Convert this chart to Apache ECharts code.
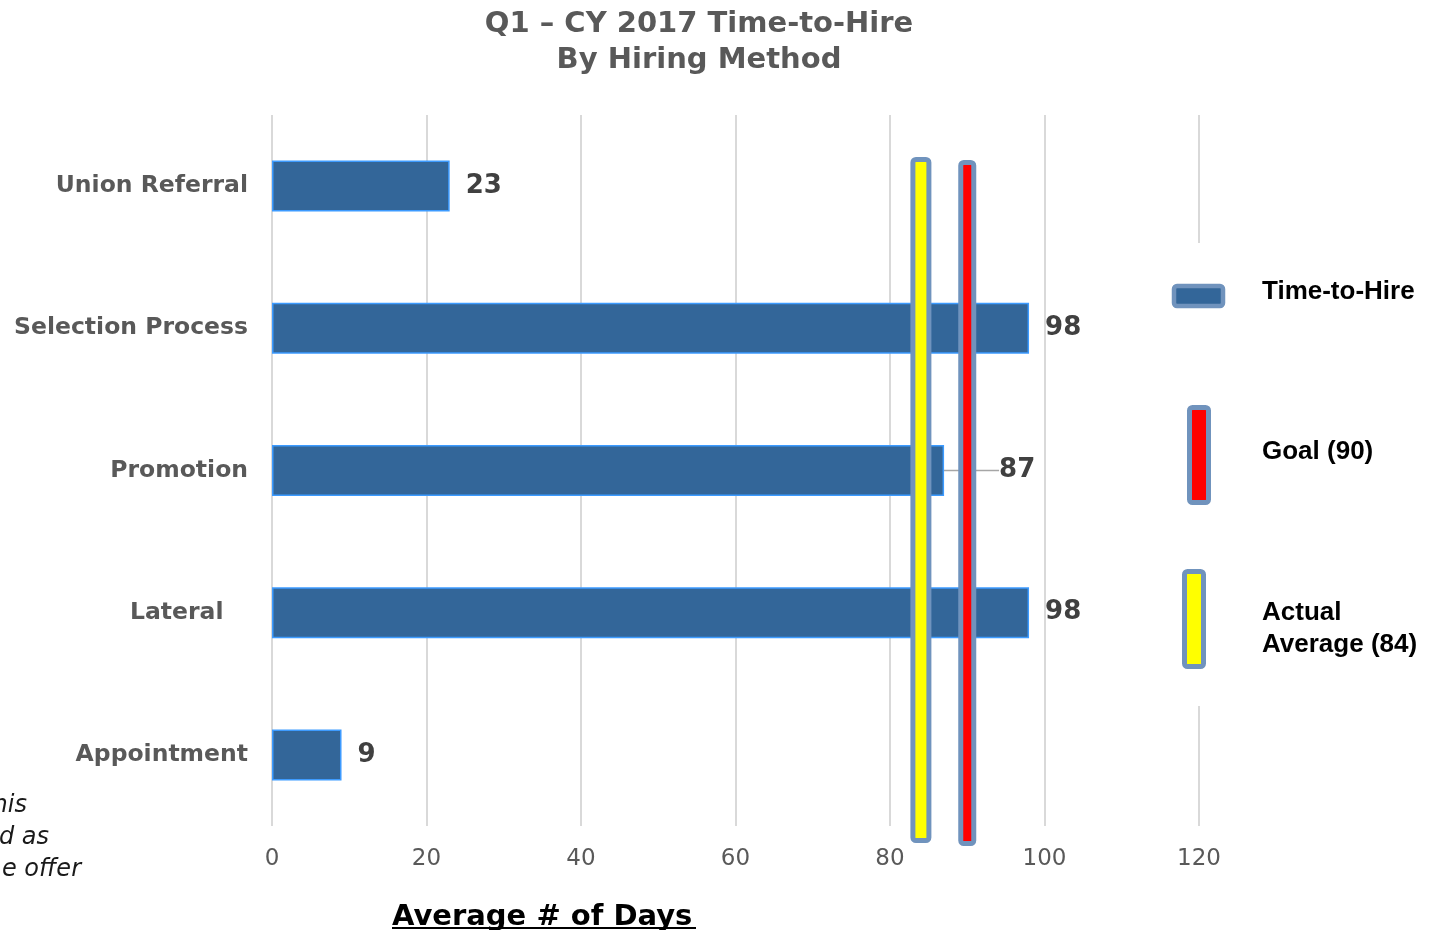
<!DOCTYPE html>
<html>
<head>
<meta charset="utf-8">
<title>Q1 – CY 2017 Time-to-Hire By Hiring Method</title>
<script src="https://cdn.jsdelivr.net/npm/echarts@6/dist/echarts.min.js"></script>
<style>
  html, body { margin: 0; padding: 0; background: #ffffff; }
  #chart { width: 1434px; height: 930px; }
</style>
</head>
<body>
<div id="chart"></div>
<script>
// Hiring methods and the average number of days each took
const categories = ['Union Referral', 'Selection Process', 'Promotion', 'Lateral', 'Appointment'];
const daysToHire = [23, 98, 87, 98, 9];

// Reference markers
const goalDays = 90;
const actualAverageDays = 84;

// Value axis ticks
const axisMin = 0;
const axisMax = 120;
const axisStep = 20;

// Legend captions
const legendNames = ['Time-to-Hire', 'Goal (90)', 'Actual\nAverage (84)'];

// Footnote fragments at the lower left
const footnoteLines = ['his', 'd as', 'e offer'];

const BAR_FILL = '#336699';
const BAR_EDGE = '#3d9bff';
const MARKER_EDGE = '#7093bd';
const SANS = '"DejaVu Sans", Verdana, sans-serif';
const ARIAL = '"Liberation Sans", Arial, sans-serif';

// Promotion's value label sits to the right of the reference bands, joined by a leader line
const LEADER_INDEX = 2;

const chart = echarts.init(document.getElementById('chart'), null, { renderer: 'canvas' });

// Vertical reference band drawn across the plot at a given day value
function markerRenderer(fill, width, topPad, bottomPad) {
  return function (params, api) {
    const x = api.coord([api.value(0), 0])[0];
    const cs = params.coordSys;
    return {
      type: 'rect',
      shape: {
        x: x - width / 2,
        y: cs.y + topPad,
        width: width,
        height: cs.height - topPad + bottomPad,
        r: 3
      },
      style: { fill: fill, stroke: MARKER_EDGE, lineWidth: 5 }
    };
  };
}

const barData = daysToHire.map(function (v, i) {
  return i === LEADER_INDEX
    ? { value: v, labelLine: { show: true } }
    : { value: v };
});

const footnoteEnds = [27, 49, 81];
const footnoteGraphics = footnoteLines.map(function (t, i) {
  return {
    type: 'text',
    x: footnoteEnds[i],
    y: 806 + i * 32,
    z: 50,
    style: {
      text: t,
      textAlign: 'right',
      textVerticalAlign: 'middle',
      font: 'italic 24px ' + SANS,
      fill: '#1a1a1a'
    }
  };
});

const option = {
  backgroundColor: '#ffffff',
  animation: false,
  title: {
    text: 'Q1 – CY 2017 Time-to-Hire\nBy Hiring Method',
    left: 694,
    top: 1,
    textAlign: 'center',
    textStyle: {
      fontFamily: SANS,
      fontWeight: 'bold',
      fontSize: 29,
      lineHeight: 36,
      color: '#595959'
    }
  },
  grid: { left: 272, right: 235, top: 115, bottom: 104, containLabel: false },
  xAxis: {
    type: 'value',
    min: axisMin,
    max: axisMax,
    interval: axisStep,
    axisLine: { show: false },
    axisTick: { show: false },
    axisLabel: {
      margin: 22,
      fontFamily: SANS,
      fontSize: 23,
      color: '#595959'
    },
    splitLine: { show: true, lineStyle: { color: '#d9d9d9', width: 2 } }
  },
  yAxis: {
    type: 'category',
    data: categories,
    inverse: true,
    axisLine: { show: false },
    axisTick: { show: false },
    axisLabel: {
      margin: 24,
      fontFamily: SANS,
      fontWeight: 'bold',
      fontSize: 23.5,
      color: '#595959',
      padding: [5, 0, 0, 0],
      formatter: function (v) { return v === 'Lateral' ? v + '   ' : v; }
    }
  },
  series: [
    {
      name: legendNames[0],
      type: 'bar',
      data: barData,
      barWidth: 51,
      z: 2,
      itemStyle: { color: BAR_FILL, borderColor: BAR_EDGE, borderWidth: 1.5 },
      label: {
        show: true,
        position: 'right',
        distance: 16,
        offset: [0, 2],
        fontFamily: SANS,
        fontWeight: 'bold',
        fontSize: 26,
        color: '#404040'
      },
      labelLine: {
        show: false,
        length2: 0,
        lineStyle: { color: '#a6a6a6', width: 1.5 }
      },
      labelLayout: function (params) {
        if (params.dataIndex === LEADER_INDEX) {
          return { dx: 39 };
        }
        return {};
      }
    },
    {
      name: legendNames[2],
      type: 'custom',
      data: [[actualAverageDays, 0]],
      encode: { x: 0, y: 1 },
      z: 5,
      silent: true,
      renderItem: markerRenderer('#ffff00', 16, 44.5, 14.5)
    },
    {
      name: legendNames[1],
      type: 'custom',
      data: [[goalDays, 0]],
      encode: { x: 0, y: 1 },
      z: 5,
      silent: true,
      renderItem: markerRenderer('#ff0000', 13, 47.5, 17.5)
    }
  ],
  graphic: [
    // legend panel
    { type: 'rect', z: 40, shape: { x: 1140, y: 243, width: 294, height: 463 }, style: { fill: '#ffffff' } },
    { type: 'rect', z: 41, shape: { x: 1174, y: 286, width: 49, height: 20, r: 3 }, style: { fill: BAR_FILL, stroke: MARKER_EDGE, lineWidth: 4.5 } },
    { type: 'rect', z: 41, shape: { x: 1189.5, y: 407.5, width: 19, height: 95, r: 3 }, style: { fill: '#ff0000', stroke: MARKER_EDGE, lineWidth: 5 } },
    { type: 'rect', z: 41, shape: { x: 1184.5, y: 571.5, width: 19, height: 95, r: 3 }, style: { fill: '#ffff00', stroke: MARKER_EDGE, lineWidth: 5 } },
    { type: 'text', z: 41, x: 1262, y: 292, style: { text: legendNames[0], textVerticalAlign: 'middle', font: 'bold 26px ' + ARIAL, fill: '#000000' } },
    { type: 'text', z: 41, x: 1262, y: 452, style: { text: legendNames[1], textVerticalAlign: 'middle', font: 'bold 26px ' + ARIAL, fill: '#000000' } },
    { type: 'text', z: 41, x: 1262, y: 629, style: { text: legendNames[2], textVerticalAlign: 'middle', font: 'bold 26px ' + ARIAL, lineHeight: 32, fill: '#000000' } },
    // value axis title, underlined
    { type: 'text', z: 41, x: 392, y: 932, style: { text: 'Average # of Days', textVerticalAlign: 'bottom', font: 'bold 29px ' + SANS, fill: '#000000' } },
    { type: 'line', z: 41, shape: { x1: 392, y1: 928, x2: 696, y2: 928 }, style: { stroke: '#000000', lineWidth: 2 } }
  ].concat(footnoteGraphics)
};

chart.setOption(option);
</script>
</body>
</html>
